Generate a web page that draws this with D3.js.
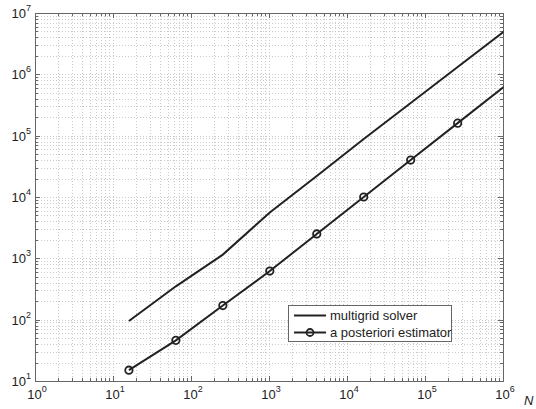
<!DOCTYPE html>
<html>
<head>
<meta charset="utf-8">
<script src="https://cdnjs.cloudflare.com/ajax/libs/d3/7.8.5/d3.min.js"></script>
<style>
  body { margin: 0; background: #fff; }
  text { font-family: "Liberation Sans", Arial, sans-serif; fill: #222; }
</style>
</head>
<body>
<div id="chart"></div>
<script>
  // problem sizes N = 4^k
  var sizes = [16, 64, 256, 1024, 4096, 16384, 65536, 262144, 1048576];
  var solverTime = [95, 350, 1150, 5600, 22000, 88000, 340000, 1320000, 5100000];
  var estimatorTime = [15, 46, 170, 620, 2500, 10000, 40000, 160000, 640000];
  var seriesNames = ["multigrid solver", "a posteriori estimator"];
  var xExps = [0, 1, 2, 3, 4, 5, 6];
  var yExps = [1, 2, 3, 4, 5, 6, 7];

  var W = 536, H = 409;
  var pLeft = 35, pRight = 503, pTop = 13, pBottom = 381;

  var svg = d3.select("#chart").append("svg").attr("width", W).attr("height", H);

  var x = d3.scaleLog().domain([1, 1e6]).range([pLeft, pRight]);
  var y = d3.scaleLog().domain([10, 1e7]).range([pBottom, pTop]);

  // all grid values (major + minor)
  var xGrid = [], yGrid = [];
  for (var e = 0; e < 6; e++) for (var m = 1; m < 10; m++) xGrid.push(m * Math.pow(10, e));
  xGrid.push(1e6);
  for (var e = 1; e < 7; e++) for (var m = 1; m < 10; m++) yGrid.push(m * Math.pow(10, e));
  yGrid.push(1e7);

  var grid = svg.append("g").attr("stroke", "#cbcbcb").attr("stroke-width", 1)
    .attr("stroke-dasharray", "1,2");
  grid.selectAll(".gx").data(xGrid).enter().append("line")
    .attr("x1", function(d){ return Math.round(x(d)) + 0.5; })
    .attr("x2", function(d){ return Math.round(x(d)) + 0.5; })
    .attr("y1", pTop).attr("y2", pBottom);
  grid.selectAll(".gy").data(yGrid).enter().append("line")
    .attr("y1", function(d){ return Math.round(y(d)) + 0.5; })
    .attr("y2", function(d){ return Math.round(y(d)) + 0.5; })
    .attr("x1", pLeft).attr("x2", pRight);

  // ticks inside, all four sides
  function isMajor(d){ var l = Math.log10(d); return Math.abs(l - Math.round(l)) < 1e-9; }
  var ticks = svg.append("g").attr("stroke", "#666").attr("stroke-width", 1);
  xGrid.forEach(function(d){
    var px = Math.round(x(d)) + 0.5, len = isMajor(d) ? 5 : 3;
    ticks.append("line").attr("x1", px).attr("x2", px).attr("y1", pBottom).attr("y2", pBottom - len);
    ticks.append("line").attr("x1", px).attr("x2", px).attr("y1", pTop).attr("y2", pTop + len);
  });
  yGrid.forEach(function(d){
    var py = Math.round(y(d)) + 0.5, len = isMajor(d) ? 5 : 3;
    ticks.append("line").attr("y1", py).attr("y2", py).attr("x1", pLeft).attr("x2", pLeft + len);
    ticks.append("line").attr("y1", py).attr("y2", py).attr("x1", pRight).attr("x2", pRight - len);
  });

  svg.append("rect").attr("x", pLeft + 0.5).attr("y", pTop + 0.5)
    .attr("width", pRight - pLeft).attr("height", pBottom - pTop)
    .attr("fill", "none").attr("stroke", "#666");

  // tick labels 10^k
  xExps.forEach(function(k){
    var t = svg.append("text").attr("x", x(Math.pow(10, k)) + 2).attr("y", 399)
      .attr("text-anchor", "middle").style("font-size", "13px");
    t.append("tspan").text("10");
    t.append("tspan").attr("dy", -7).style("font-size", "9px").text(k);
  });
  yExps.forEach(function(k){
    var t = svg.append("text").attr("x", 31).attr("y", y(Math.pow(10, k)) + 5)
      .attr("text-anchor", "end").style("font-size", "13px");
    t.append("tspan").text("10");
    t.append("tspan").attr("dy", -7).style("font-size", "9px").text(k);
  });

  svg.append("text").attr("x", 524).attr("y", 405).style("font-size", "13px")
    .style("font-style", "italic").text("N");

  // data lines
  svg.append("clipPath").attr("id", "clip").append("rect")
    .attr("x", pLeft).attr("y", pTop).attr("width", pRight - pLeft + 0.5).attr("height", pBottom - pTop);
  var plot = svg.append("g").attr("clip-path", "url(#clip)");

  var line = d3.line().x(function(d){ return x(d[0]); }).y(function(d){ return y(d[1]); });
  var solverPts = d3.zip(sizes, solverTime);
  var estPts = d3.zip(sizes, estimatorTime);

  plot.append("path").datum(solverPts).attr("d", line)
    .attr("fill", "none").attr("stroke", "#222").attr("stroke-width", 2);
  plot.append("path").datum(estPts).attr("d", line)
    .attr("fill", "none").attr("stroke", "#222").attr("stroke-width", 2);
  plot.selectAll(".mk").data(estPts.filter(function(d){ return d[0] <= 1e6; })).enter().append("circle")
    .attr("cx", function(d){ return x(d[0]); })
    .attr("cy", function(d){ return y(d[1]); })
    .attr("r", 3.7).attr("fill", "none").attr("stroke", "#222").attr("stroke-width", 1.8);

  // legend
  var lg = svg.append("g");
  lg.append("rect").attr("x", 288.5).attr("y", 305.5).attr("width", 163).attr("height", 36)
    .attr("fill", "#fff").attr("stroke", "#666");
  lg.append("line").attr("x1", 294).attr("x2", 326).attr("y1", 315.5).attr("y2", 315.5)
    .attr("stroke", "#222").attr("stroke-width", 2);
  lg.append("line").attr("x1", 294).attr("x2", 326).attr("y1", 332.5).attr("y2", 332.5)
    .attr("stroke", "#222").attr("stroke-width", 2);
  lg.append("circle").attr("cx", 310).attr("cy", 332.5).attr("r", 3.5)
    .attr("fill", "none").attr("stroke", "#222").attr("stroke-width", 1.8);
  lg.selectAll(".lt").data(seriesNames).enter().append("text")
    .attr("x", 330).attr("y", function(d, i){ return 319.5 + i * 17; })
    .style("font-size", "13px").text(function(d){ return d; });
</script>
</body>
</html>
